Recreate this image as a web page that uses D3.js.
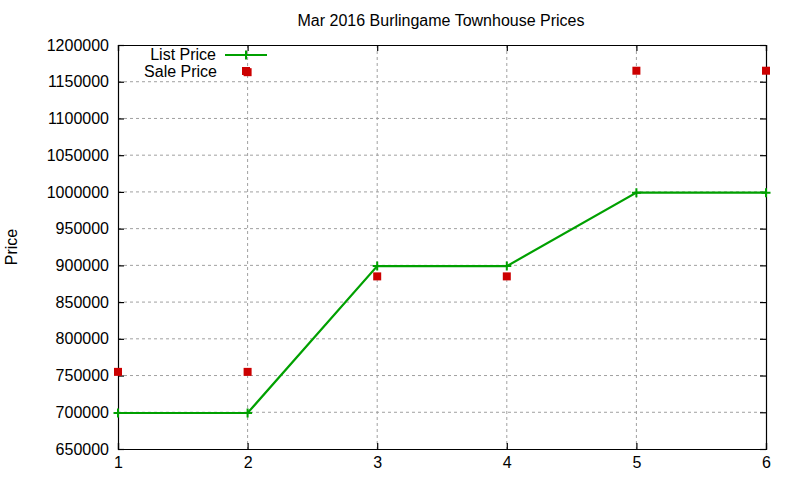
<!DOCTYPE html>
<html>
<head>
<meta charset="utf-8">
<script src="https://cdn.jsdelivr.net/npm/d3@7"></script>
<style>
    body { margin: 0; background: #fff; }
    text { font-family: "Liberation Sans", Arial, sans-serif; fill: #000; }
</style>
</head>
<body>
<svg id="chart" width="800" height="480"></svg>
<script>
    var title = "Mar 2016 Burlingame Townhouse Prices";
    var yLabel = "Price";

    // list price, one row per index
    var listX = [1, 2, 3, 4, 5, 6];
    var listPrice = [699000, 699000, 899000, 899000, 999000, 999000];

    // sale prices (index 2 has two sales)
    var saleX = [1, 2, 2, 3, 4, 5, 6];
    var salePrice = [755000, 755000, 1163000, 885000, 885000, 1165000, 1165000];

    var xTicks = [1, 2, 3, 4, 5, 6];
    var yTicks = d3.range(650000, 1200001, 50000);

    var colors = {
        list: "#00a000",
        sale: "#cc0000",
        grid: "#a0a0a0"
    };

    var FONT = "16px";

    var margin = { top: 45, right: 34, bottom: 31, left: 118 };
    var width = 800 - margin.left - margin.right;
    var height = 480 - margin.top - margin.bottom;

    var svg = d3.select("#chart");
    var chart = svg.append("g")
        .attr("transform", "translate(" + margin.left + "," + margin.top + ")");

    var x = d3.scaleLinear().domain([1, 6]).range([0, width]);
    var y = d3.scaleLinear().domain([650000, 1200000]).range([height, 0]);

    // grid
    var grid = chart.append("g").attr("class", "grid")
        .attr("stroke", colors.grid)
        .attr("stroke-dasharray", "3,3");
    grid.selectAll("line.gx")
        .data(xTicks.slice(1, -1))
        .enter().append("line")
            .attr("x1", function (d) { return x(d); })
            .attr("x2", function (d) { return x(d); })
            .attr("y1", 0).attr("y2", height);
    grid.selectAll("line.gy")
        .data(yTicks.slice(1, -1))
        .enter().append("line")
            .attr("x1", 0).attr("x2", width)
            .attr("y1", function (d) { return y(d); })
            .attr("y2", function (d) { return y(d); });

    // axes - ticks point inward, mirrored on all four sides
    var tickLen = 6;
    chart.append("g")
        .attr("transform", "translate(0," + height + ")")
        .call(d3.axisBottom(x).tickValues(xTicks).tickSize(-tickLen).tickPadding(8).tickFormat(d3.format("d")));
    chart.append("g")
        .call(d3.axisTop(x).tickValues(xTicks).tickSize(-tickLen).tickFormat(""));
    chart.append("g")
        .call(d3.axisLeft(y).tickValues(yTicks).tickSize(-tickLen).tickPadding(9).tickFormat(d3.format("d")));
    chart.append("g")
        .attr("transform", "translate(" + width + ",0)")
        .call(d3.axisRight(y).tickValues(yTicks).tickSize(-tickLen).tickFormat(""));

    chart.selectAll(".domain").attr("stroke", "#000").attr("stroke-width", 1.2);
    chart.selectAll(".tick line").attr("stroke", "#000").attr("stroke-width", 1.2);
    chart.selectAll(".tick text").attr("font-size", FONT).attr("fill", "#000")
        .attr("font-family", "Liberation Sans, Arial, sans-serif");

    // list price line
    var line = d3.line()
        .x(function (d) { return x(d[0]); })
        .y(function (d) { return y(d[1]); });
    var listData = d3.zip(listX, listPrice);

    chart.append("path")
        .datum(listData)
        .attr("d", line)
        .attr("fill", "none")
        .attr("stroke", colors.list)
        .attr("stroke-width", 2.2);

    function plusPath(cx, cy, r) {
        return "M" + (cx - r) + "," + cy + "H" + (cx + r) + "M" + cx + "," + (cy - r) + "V" + (cy + r);
    }

    chart.append("g").selectAll("path")
        .data(listData)
        .enter().append("path")
            .attr("d", function (d) { return plusPath(x(d[0]), y(d[1]), 4.5); })
            .attr("stroke", colors.list)
            .attr("stroke-width", 2);

    // sale price squares
    var saleData = d3.zip(saleX, salePrice);
    chart.append("g").selectAll("rect")
        .data(saleData)
        .enter().append("rect")
            .attr("x", function (d) { return x(d[0]) - 4; })
            .attr("y", function (d) { return y(d[1]) - 4; })
            .attr("width", 8)
            .attr("height", 8)
            .attr("fill", colors.sale);

    // legend
    var legend = svg.append("g").attr("font-size", FONT);
    legend.append("text")
        .attr("x", 216).attr("y", 59.5)
        .attr("text-anchor", "end")
        .text("List Price");
    legend.append("line")
        .attr("x1", 225).attr("x2", 267)
        .attr("y1", 55).attr("y2", 55)
        .attr("stroke", colors.list).attr("stroke-width", 2.2);
    legend.append("path")
        .attr("d", plusPath(246, 55, 4.5))
        .attr("stroke", colors.list).attr("stroke-width", 2);
    legend.append("text")
        .attr("x", 217).attr("y", 77)
        .attr("text-anchor", "end")
        .text("Sale Price");
    legend.append("rect")
        .attr("x", 242).attr("y", 67)
        .attr("width", 8).attr("height", 8)
        .attr("fill", colors.sale);

    // title and y label
    svg.append("text")
        .attr("x", 441).attr("y", 26)
        .attr("text-anchor", "middle")
        .attr("font-size", FONT)
        .text(title);
    svg.append("text")
        .attr("transform", "translate(17," + (margin.top + height / 2) + ") rotate(-90)")
        .attr("text-anchor", "middle")
        .attr("font-size", FONT)
        .text(yLabel);
</script>
</body>
</html>
